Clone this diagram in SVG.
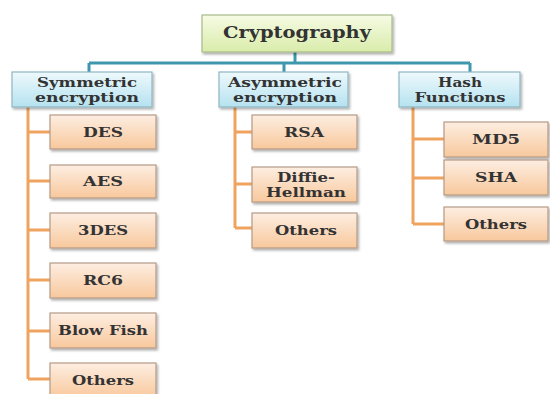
<svg xmlns="http://www.w3.org/2000/svg" width="550" height="394" viewBox="0 0 550 394">
<defs>
<linearGradient id="gGreen" x1="0" y1="0" x2="0" y2="1"><stop offset="0" stop-color="#f6fbe4"/><stop offset="1" stop-color="#d9ecaa"/></linearGradient>
<linearGradient id="gBlue" x1="0" y1="0" x2="0" y2="1"><stop offset="0" stop-color="#eef9fc"/><stop offset="1" stop-color="#b5e2f0"/></linearGradient>
<linearGradient id="gPeach" x1="0" y1="0" x2="0" y2="1"><stop offset="0" stop-color="#fdeee2"/><stop offset="1" stop-color="#f8c89c"/></linearGradient>
<filter id="sh" x="-10%" y="-20%" width="125%" height="150%"><feDropShadow dx="1.5" dy="2" stdDeviation="1.2" flood-color="#000" flood-opacity="0.3"/></filter>
</defs>
<style>
text{font-family:"DejaVu Serif","Liberation Serif",serif;font-weight:bold;fill:#333333;text-anchor:middle}
.root{fill:url(#gGreen);stroke:#a8b98a;stroke-width:1.2;filter:url(#sh)}
.cat{fill:url(#gBlue);stroke:#8fb6c2;stroke-width:1.2;filter:url(#sh)}
.leaf{fill:url(#gPeach);stroke:#b59a86;stroke-width:1.2;filter:url(#sh)}
.teal{stroke:#3f97ae;stroke-width:3;fill:none}
.org{stroke:#f0a35e;stroke-width:3;fill:none}
.t1{font-size:16px}
.t2{font-size:12px}
.t3{font-size:13px}
</style>
<rect width="550" height="394" fill="#ffffff"/>
<g id="connectors">
<path class="teal" d="M295 52V63M89 63H470M89 63V72M284 63V72M470 63V72"/>
<path class="org" d="M28 107V379M28 132H50M28 181H50M28 230H50M28 280H50M28 331H50M28 379H50"/>
<path class="org" d="M235 107V228M235 132H252M235 184H252M235 228H252"/>
<path class="org" d="M413 107V224M413 139H444M413 178H444M413 224H444"/>
</g>
<g id="cryptography"><rect class="root" x="202" y="15" width="190" height="37"/><text class="t1" x="297" y="38" textLength="148" lengthAdjust="spacingAndGlyphs">Cryptography</text></g>
<g id="symmetric"><rect class="cat" x="12" y="72" width="140" height="35"/><text class="t2" x="87" y="86.5" textLength="100" lengthAdjust="spacingAndGlyphs">Symmetric</text><text class="t2" x="87" y="101.5" textLength="104" lengthAdjust="spacingAndGlyphs">encryption</text></g>
<g id="asymmetric"><rect class="cat" x="219" y="72" width="129" height="35"/><text class="t2" x="285" y="86.5" textLength="114" lengthAdjust="spacingAndGlyphs">Asymmetric</text><text class="t2" x="285" y="101.5" textLength="104" lengthAdjust="spacingAndGlyphs">encryption</text></g>
<g id="hash"><rect class="cat" x="399" y="72" width="121" height="35"/><text class="t2" x="460" y="86.5" textLength="44" lengthAdjust="spacingAndGlyphs">Hash</text><text class="t2" x="460" y="101.5" textLength="91" lengthAdjust="spacingAndGlyphs">Functions</text></g>
<g id="des"><rect class="leaf" x="50" y="115" width="106" height="34"/><text class="t3" x="103" y="137" textLength="40" lengthAdjust="spacingAndGlyphs">DES</text></g>
<g id="aes"><rect class="leaf" x="50" y="165" width="106" height="33"/><text class="t3" x="103" y="186" textLength="40" lengthAdjust="spacingAndGlyphs">AES</text></g>
<g id="3des"><rect class="leaf" x="50" y="213" width="106" height="35"/><text class="t3" x="103" y="235" textLength="50" lengthAdjust="spacingAndGlyphs">3DES</text></g>
<g id="rc6"><rect class="leaf" x="50" y="263" width="106" height="35"/><text class="t3" x="103" y="285" textLength="40" lengthAdjust="spacingAndGlyphs">RC6</text></g>
<g id="blowfish"><rect class="leaf" x="50" y="313" width="106" height="35"/><text class="t3" x="103" y="335" textLength="90" lengthAdjust="spacingAndGlyphs">Blow Fish</text></g>
<g id="others-sym"><rect class="leaf" x="50" y="363" width="106" height="35"/><text class="t3" x="103" y="385" textLength="62" lengthAdjust="spacingAndGlyphs">Others</text></g>
<g id="rsa"><rect class="leaf" x="252" y="115" width="105" height="34"/><text class="t3" x="304" y="137" textLength="40" lengthAdjust="spacingAndGlyphs">RSA</text></g>
<g id="diffie"><rect class="leaf" x="252" y="167" width="105" height="35"/><text class="t2" x="306" y="181.5" textLength="58" lengthAdjust="spacingAndGlyphs">Diffie-</text><text class="t2" x="306" y="196.5" textLength="80" lengthAdjust="spacingAndGlyphs">Hellman</text></g>
<g id="others-asym"><rect class="leaf" x="252" y="213" width="105" height="35"/><text class="t3" x="306" y="235" textLength="62" lengthAdjust="spacingAndGlyphs">Others</text></g>
<g id="md5"><rect class="leaf" x="444" y="122" width="104" height="35"/><text class="t3" x="496" y="144" textLength="48" lengthAdjust="spacingAndGlyphs">MD5</text></g>
<g id="sha"><rect class="leaf" x="444" y="160" width="104" height="35"/><text class="t3" x="496" y="182" textLength="42" lengthAdjust="spacingAndGlyphs">SHA</text></g>
<g id="others-hash"><rect class="leaf" x="444" y="207" width="104" height="34"/><text class="t3" x="496" y="229" textLength="62" lengthAdjust="spacingAndGlyphs">Others</text></g>
</svg>
